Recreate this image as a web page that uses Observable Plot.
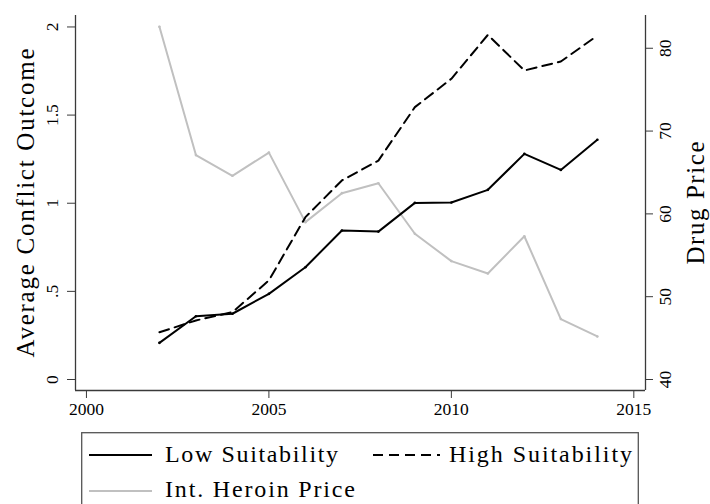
<!DOCTYPE html>
<html><head><meta charset="utf-8">
<script src="https://cdn.jsdelivr.net/npm/d3@7"></script>
<script src="https://cdn.jsdelivr.net/npm/@observablehq/plot@0.6"></script>
<style>
html,body{margin:0;padding:0;background:#fff;}
body{width:710px;height:504px;overflow:hidden;position:relative;font-family:"Liberation Serif",serif;}
#chart{position:absolute;left:0;top:0;}
#legend{position:absolute;left:0;top:0;}
</style></head>
<body><div id="chart"></div><div id="legend"></div>
<script>
const years = [2002,2003,2004,2005,2006,2007,2008,2009,2010,2011,2012,2013,2014];
const lowSuit = [0.208,0.359,0.373,0.486,0.637,0.845,0.839,1.002,1.004,1.076,1.280,1.189,1.360];
const highSuit = [0.268,0.335,0.382,0.562,0.921,1.129,1.242,1.545,1.706,1.955,1.753,1.804,1.951];
const heroinPrice = [82.6,67.1,64.6,67.4,59.0,62.5,63.7,57.6,54.3,52.8,57.3,47.3,45.2];
const xTicks = [2000,2005,2010,2015];
const leftTicks = [0,0.5,1,1.5,2];
const leftTickLabels = ["0",".5","1","1.5","2"];
const rightTicks = [40,50,60,70,80];
const seriesNames = ["Low Suitability","High Suitability","Int. Heroin Price"];
const leftTitle = "Average Conflict Outcome";
const rightTitle = "Drug Price";

const xDom = [1999.70, 2015.32];
const yDom = [-0.0624, 2.065];
const priceToLeft = p => (p - 40) * 0.04698;
const axisCol = "#3a3a3a";
const tickFont = 17.5;

const rows = years.map((yr,i)=>({year:yr, low:lowSuit[i], high:highSuit[i], price:priceToLeft(heroinPrice[i])}));

const plot = Plot.plot({
  width:710, height:425,
  marginLeft:75, marginRight:65, marginTop:15, marginBottom:35,
  style:{fontFamily:"Liberation Serif", fontSize:"17.5px", color:"#000", background:"transparent"},
  x:{domain:xDom},
  y:{domain:yDom},
  marks:[
    Plot.axisX({ticks:xTicks, tickFormat:d=>String(d), tickSize:8, tickPadding:3.6, label:null, stroke:axisCol, fill:"#000", fontSize:tickFont}),
    Plot.axisY({ticks:leftTicks, tickFormat:(d,i)=>leftTickLabels[i], tickSize:8, tickPadding:9.7, tickRotate:-90, label:null, stroke:axisCol, fill:"#000", fontSize:tickFont}),
    Plot.axisY({anchor:"right", ticks:rightTicks.map(priceToLeft), tickFormat:(d,i)=>String(rightTicks[i]), tickSize:7, tickPadding:18, tickRotate:-90, label:null, stroke:axisCol, fill:"#000", fontSize:tickFont}),
    Plot.ruleY([yDom[0]],{stroke:axisCol, strokeWidth:1.3}),
    Plot.ruleX([xDom[0]],{stroke:axisCol, strokeWidth:1.3}),
    Plot.ruleX([xDom[1]],{stroke:axisCol, strokeWidth:1.3}),
    Plot.text([leftTitle],{frameAnchor:"left", rotate:-90, dx:-41.7, lineAnchor:"bottom", textAnchor:"middle", fontSize:25}),
    Plot.text([rightTitle],{frameAnchor:"right", rotate:-90, dx:58.3, lineAnchor:"bottom", textAnchor:"middle", fontSize:25}),
    Plot.lineY(rows,{x:"year", y:"price", stroke:"#c0c0c0", strokeWidth:2}),
    Plot.dot(rows,{x:"year", y:"price", fill:"#c0c0c0", r:1.3}),
    Plot.lineY(rows,{x:"year", y:"high", stroke:"#000", strokeWidth:2, strokeDasharray:"10,6"}),
    Plot.lineY(rows,{x:"year", y:"low", stroke:"#000", strokeWidth:2}),
    Plot.dot(rows,{x:"year", y:"low", fill:"#000", r:1.3})
  ]
});
document.getElementById("chart").appendChild(plot);
d3.select(plot).selectAll("text").each(function(){
  const t = this.textContent;
  if (t === leftTitle) { this.setAttribute("textLength", 309); this.setAttribute("lengthAdjust","spacing"); }
  if (t === rightTitle) { this.setAttribute("textLength", 123); this.setAttribute("lengthAdjust","spacing"); }
});

// legend below the chart
const lg = d3.select("#legend").append("svg").attr("width",710).attr("height",504)
  .style("font-family","Liberation Serif").style("font-size","24px");
lg.append("rect").attr("x",81.7).attr("y",432.7).attr("width",556.6).attr("height",90)
  .attr("fill","none").attr("stroke","#555").attr("stroke-width",1.3);
const items = [
  {name:seriesNames[0], x1:89, x2:152, tx:165, ly:455, ty:461.7, w:173, stroke:"#000", dash:null},
  {name:seriesNames[1], x1:373, x2:440, tx:449, ly:455, ty:461.7, w:183, stroke:"#000", dash:"10,6"},
  {name:seriesNames[2], x1:89, x2:152, tx:165, ly:491, ty:496.7, w:190, stroke:"#c0c0c0", dash:null}
];
for (const it of items) {
  lg.append("line").attr("x1",it.x1).attr("x2",it.x2).attr("y1",it.ly).attr("y2",it.ly)
    .attr("stroke",it.stroke).attr("stroke-width",2).attr("stroke-dasharray",it.dash);
  lg.append("text").attr("x",it.tx).attr("y",it.ty).attr("textLength",it.w).attr("lengthAdjust","spacing").text(it.name);
}
</script>
</body></html>
